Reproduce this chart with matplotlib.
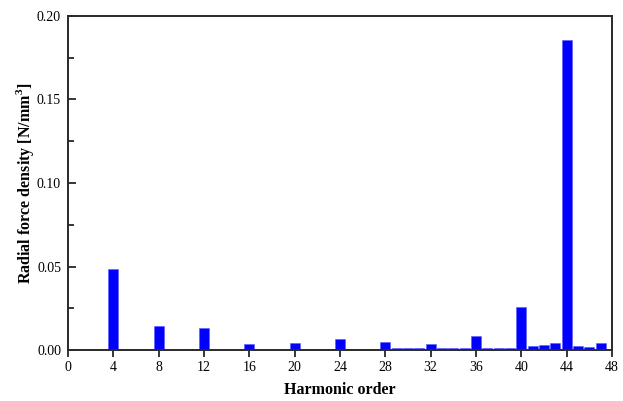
import numpy as np
import matplotlib
matplotlib.use('Agg')
from matplotlib import pyplot as plt
from matplotlib.ticker import MultipleLocator, FormatStrFormatter

orders = list(range(1, 48))
density = [0.0006, 0.0006, 0.0006, 0.0486, 0.0006, 0.0006, 0.0006, 0.0145,
           0.0, 0.0, 0.0006, 0.0133, 0.0, 0.0, 0.0, 0.0033,
           0.0, 0.0, 0.0, 0.0043, 0.0006, 0.0006, 0.0006, 0.0066,
           0.0006, 0.0006, 0.0006, 0.0045, 0.0010, 0.0010, 0.0010, 0.0034,
           0.0010, 0.0010, 0.0010, 0.0082, 0.0012, 0.0010, 0.0012, 0.0258,
           0.0024, 0.0028, 0.0042, 0.1858, 0.0022, 0.0018, 0.0043]

plt.rcParams['font.family'] = ['Liberation Serif', 'DejaVu Serif']
plt.rcParams['mathtext.fontset'] = 'custom'
plt.rcParams['mathtext.bf'] = 'Liberation Serif:bold'

fig = plt.figure(figsize=(6.23, 4.01), dpi=100)
ax = fig.add_axes([68 / 623, 1 - 350 / 401, 544 / 623, 334 / 401])

ax.bar(orders, density, width=0.88, color='#0000ff', edgecolor='#5a5aff', linewidth=0.4)

ax.set_xlim(0, 48)
ax.set_ylim(0, 0.2)
ax.xaxis.set_major_locator(MultipleLocator(4))
ax.yaxis.set_major_locator(MultipleLocator(0.05))
ax.yaxis.set_minor_locator(MultipleLocator(0.025))
ax.yaxis.set_major_formatter(FormatStrFormatter('%.2f'))

ax.tick_params(axis='x', direction='out', length=5, width=1.1, labelsize=10, pad=3)
ax.tick_params(axis='y', which='major', direction='in', length=6, width=1.1, labelsize=10, pad=5)
ax.tick_params(axis='y', which='minor', direction='in', length=4, width=1.1)

for s in ax.spines.values():
    s.set_linewidth(1.4)
    s.set_color('#2a2a2a')

ax.set_xlabel('Harmonic order', fontsize=11.5, fontweight='bold', labelpad=6)
ax.set_ylabel('Radial force density [N/mm$^\\mathbf{3}$]', fontsize=11.5, fontweight='bold', labelpad=1)

fig.savefig('out.png', dpi=100)
